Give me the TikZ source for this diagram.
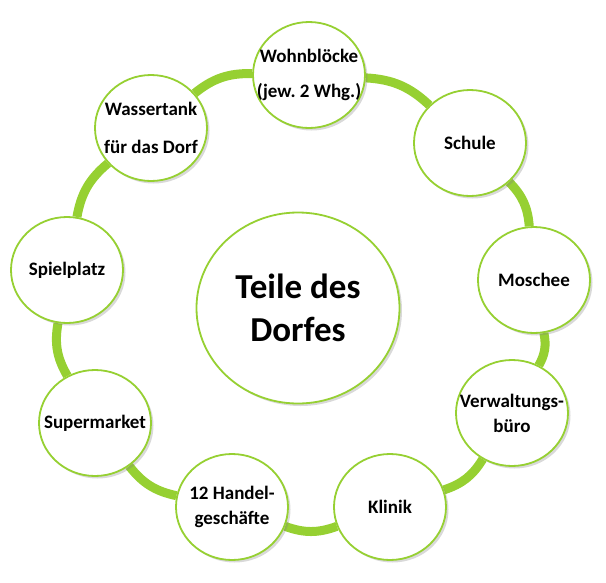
\documentclass[tikz,border=0pt]{standalone}
\usepackage{fontspec}
\setmainfont{Carlito}
\usetikzlibrary{shapes.geometric, shadows, backgrounds}
\definecolor{ringgreen}{RGB}{150,208,50}

\begin{document}
\begin{tikzpicture}[x=1pt,y=-1pt,
  part/.style={ellipse, draw=ringgreen, line width=1.8pt, fill=white,
    minimum width=112pt, minimum height=106pt, inner xsep=-20pt, inner ysep=-10pt,
    align=center, font=\fontsize{19}{25}\selectfont\bfseries,
    drop shadow={opacity=0.3, shadow xshift=2.5pt, shadow yshift=-2.5pt}},
  centre/.style={part, minimum width=203pt, minimum height=191pt,
    font=\fontsize{35}{43}\selectfont\bfseries},
  ring/.style={ringgreen, line width=9pt}]
  \useasboundingbox (0,0) rectangle (606,582);
  % centre and the nine parts, clockwise from the top
  \node[centre] (mitte)  at (298,308) {Teile des\\Dorfes};
  \node[part] (wohn)     at (309,75)  {Wohnblöcke\\[10pt](jew.\ 2 Whg.)};
  \node[part] (schule)   at (470,143) {Schule};
  \node[part] (moschee)  at (534,280) {Moschee};
  \node[part] (verw)     at (512,413) {Verwaltungs-\\büro};
  \node[part] (klinik)   at (390,507) {Klinik};
  \node[part] (handel)   at (232,507) {12 Handel-\\geschäfte};
  \node[part] (super)    at (95,423)  {Supermarket};
  \node[part] (spiel)    at (67,270)  {Spielplatz};
  \node[part] (wasser)   at (151,128) {Wassertank\\[13pt]für das Dorf};

  % the green ring between neighbours
  \begin{scope}[on background layer]
  \path[ring]
    (wohn)    edge [bend left=20] (schule)
    (schule)  edge [bend left=20] (moschee)
    (moschee) edge [bend left=20] (verw)
    (verw)    edge [bend left=20] (klinik)
    (klinik)  edge [bend left=20] (handel)
    (handel)  edge [bend left=20] (super)
    (super)   edge [bend left=20] (spiel)
    (spiel)   edge [bend left=20] (wasser)
    (wasser)  edge [bend left=20] (wohn);
  \end{scope}
\end{tikzpicture}
\end{document}
